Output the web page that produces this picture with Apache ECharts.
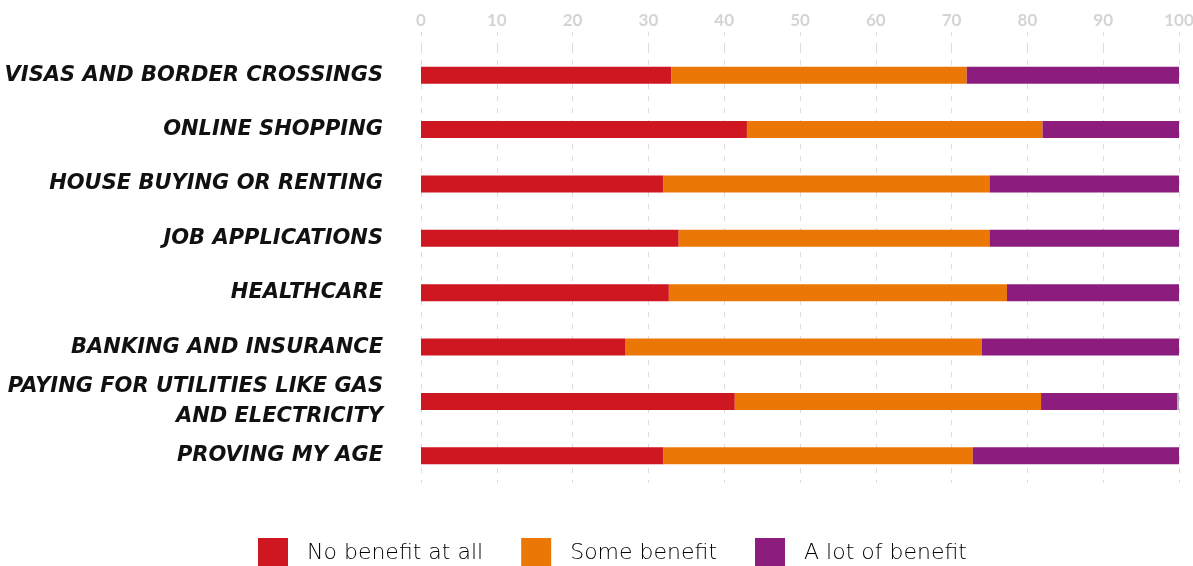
<!DOCTYPE html>
<html>
<head>
<meta charset="utf-8">
<script src="https://cdn.jsdelivr.net/npm/echarts@6/dist/echarts.min.js"></script>
<style>
  html, body { margin: 0; padding: 0; background: #fff; }
  #chart { width: 1193px; height: 566px; }
</style>
</head>
<body>
<div id="chart"></div>
<script>
// categories, top to bottom
const categories = [
  'VISAS AND BORDER CROSSINGS',
  'ONLINE SHOPPING',
  'HOUSE BUYING OR RENTING',
  'JOB APPLICATIONS',
  'HEALTHCARE',
  'BANKING AND INSURANCE',
  'PAYING FOR UTILITIES LIKE GAS\nAND ELECTRICITY',
  'PROVING MY AGE'
]
const noBenefit = [33, 43, 32, 34, 32.7, 27, 41.4, 32]
const someBenefit = [39, 39, 43, 41, 44.6, 47, 40.4, 40.8]
const lotBenefit = [28, 18, 25, 25, 22.7, 26, 18, 27.2]
const unanswered = [0, 0, 0, 0, 0, 0, 0.3, 0]
const xTicks = [0, 10, 20, 30, 40, 50, 60, 70, 80, 90, 100]

const chart = echarts.init(document.getElementById('chart'))

const barBase = {
  type: 'bar',
  stack: 'total',
  barWidth: 17,
  silent: true
}

chart.setOption({
  animation: false,
  grid: {
    top: 48,
    bottom: 83,
    left: 421,
    right: 14,
    outerBoundsMode: 'none'
  },
  xAxis: {
    type: 'value',
    position: 'top',
    min: xTicks[0],
    max: xTicks[xTicks.length - 1],
    interval: 10,
    axisLine: { show: false },
    axisTick: {
      show: true,
      length: 16,
      lineStyle: { color: '#dcdcdc', type: [5, 7], width: 1 }
    },
    axisLabel: {
      color: '#d4d4d4',
      fontSize: 17,
      fontWeight: 'bold',
      fontFamily: 'Lato',
      margin: 19
    },
    splitLine: {
      show: true,
      lineStyle: { color: '#dcdcdc', type: [5, 7], width: 1 }
    }
  },
  yAxis: {
    type: 'category',
    inverse: true,
    data: categories,
    axisLine: { show: false },
    axisTick: { show: false },
    axisLabel: {
      color: '#111',
      fontSize: 21,
      fontWeight: 'bold',
      fontStyle: 'italic',
      fontFamily: 'DejaVu Sans',
      lineHeight: 30,
      margin: 38,
      align: 'right',
      padding: [3, 0, 0, 0]
    }
  },
  legend: {
    top: 538,
    left: 258,
    padding: 0,
    itemWidth: 30,
    itemHeight: 30,
    itemGap: 38,
    icon: 'rect',
    textStyle: {
      color: '#000',
      fontSize: 22,
      fontWeight: 300,
      fontFamily: 'DejaVu Sans',
      padding: [2, 0, 0, 14]
    },
    data: ['No benefit at all', 'Some benefit', 'A lot of benefit']
  },
  series: [
    Object.assign({}, barBase, { name: 'No benefit at all', data: noBenefit, itemStyle: { color: '#CF1722' } }),
    Object.assign({}, barBase, { name: 'Some benefit', data: someBenefit, itemStyle: { color: '#EB7806' } }),
    Object.assign({}, barBase, { name: 'A lot of benefit', data: lotBenefit, itemStyle: { color: '#8C1D7E' } }),
    Object.assign({}, barBase, { name: 'Unanswered', data: unanswered, itemStyle: { color: '#b4b4b4' } })
  ]
})
</script>
</body>
</html>
